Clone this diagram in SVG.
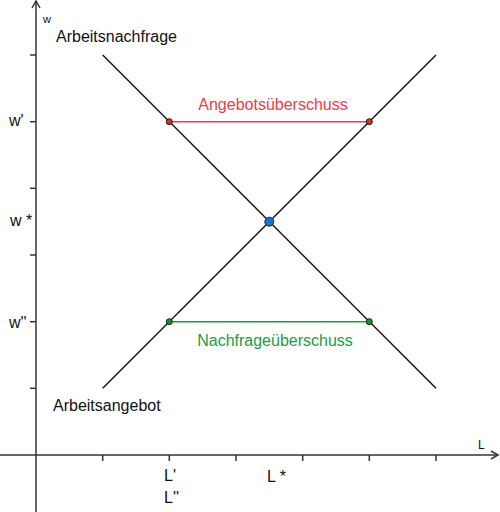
<svg xmlns="http://www.w3.org/2000/svg" width="500" height="512" viewBox="0 0 500 512">
<style>
.axis{stroke:#333;stroke-width:1.5;fill:none}
.tick{stroke:#333;stroke-width:1.5}
.curve{stroke:#111;stroke-width:1.4;fill:none}
text{font-family:"Liberation Sans",Arial,sans-serif;font-size:16px;fill:#111}
.red{fill:#e8404a}
.green{fill:#1e9a45}
</style>
<defs>
<marker id="arr" markerWidth="10" markerHeight="10" refX="8" refY="5" orient="auto" markerUnits="userSpaceOnUse">
<path d="M1,1 L8,5 L1,9" fill="none" stroke="#333" stroke-width="1.5"/>
</marker>
</defs>
<rect width="500" height="512" fill="#fff"/>
<g id="axes">
<line class="axis" x1="36" y1="512" x2="36" y2="1" marker-end="url(#arr)"/>
<line class="axis" x1="0" y1="455" x2="498" y2="455" marker-end="url(#arr)"/>
<g class="tick">
<line x1="30" y1="55" x2="36" y2="55"/>
<line x1="30" y1="121.7" x2="36" y2="121.7"/>
<line x1="30" y1="188.3" x2="36" y2="188.3"/>
<line x1="30" y1="255" x2="36" y2="255"/>
<line x1="30" y1="321.7" x2="36" y2="321.7"/>
<line x1="30" y1="388.3" x2="36" y2="388.3"/>
<line x1="102.7" y1="455" x2="102.7" y2="461"/>
<line x1="169.3" y1="455" x2="169.3" y2="461"/>
<line x1="236" y1="455" x2="236" y2="461"/>
<line x1="302.7" y1="455" x2="302.7" y2="461"/>
<line x1="369.3" y1="455" x2="369.3" y2="461"/>
<line x1="436" y1="455" x2="436" y2="461"/>
</g>
<text x="43" y="23" style="font-size:11px">w</text>
<text x="478" y="449" style="font-size:12px">L</text>
<text x="9" y="126">w'</text>
<text x="10" y="226">w *</text>
<text x="9" y="328">w''</text>
<text x="164" y="481">L'</text>
<text x="164" y="503">L''</text>
<text x="267" y="482">L *</text>
</g>
<g id="connectors">
<line class="curve" x1="102.7" y1="55" x2="436" y2="388.3"/>
<line class="curve" x1="102.7" y1="388.3" x2="436" y2="55"/>
<line x1="169.3" y1="121.7" x2="369.3" y2="121.7" stroke="#e8404a" stroke-width="1.5"/>
<line x1="169.3" y1="321.7" x2="369.3" y2="321.7" stroke="#1e9a45" stroke-width="1.5"/>
</g>
<g id="demand"><text x="56" y="42">Arbeitsnachfrage</text></g>
<g id="supply"><text x="53" y="411">Arbeitsangebot</text></g>
<g id="surplus"><text class="red" x="273" y="110" text-anchor="middle">Angebotsüberschuss</text>
<circle cx="169.3" cy="121.7" r="3" fill="#c0392b" stroke="#3a1010" stroke-width="1"/>
<circle cx="369.3" cy="121.7" r="3" fill="#c0392b" stroke="#3a1010" stroke-width="1"/></g>
<g id="shortage"><text class="green" x="275" y="346" text-anchor="middle">Nachfrageüberschuss</text>
<circle cx="169.3" cy="321.7" r="3" fill="#1e8a3a" stroke="#0f2a14" stroke-width="1"/>
<circle cx="369.3" cy="321.7" r="3" fill="#1e8a3a" stroke="#0f2a14" stroke-width="1"/></g>
<g id="equilibrium"><circle cx="269.3" cy="221.7" r="4.5" fill="#1f6fd0" stroke="#0d2a50" stroke-width="1"/></g>
</svg>
